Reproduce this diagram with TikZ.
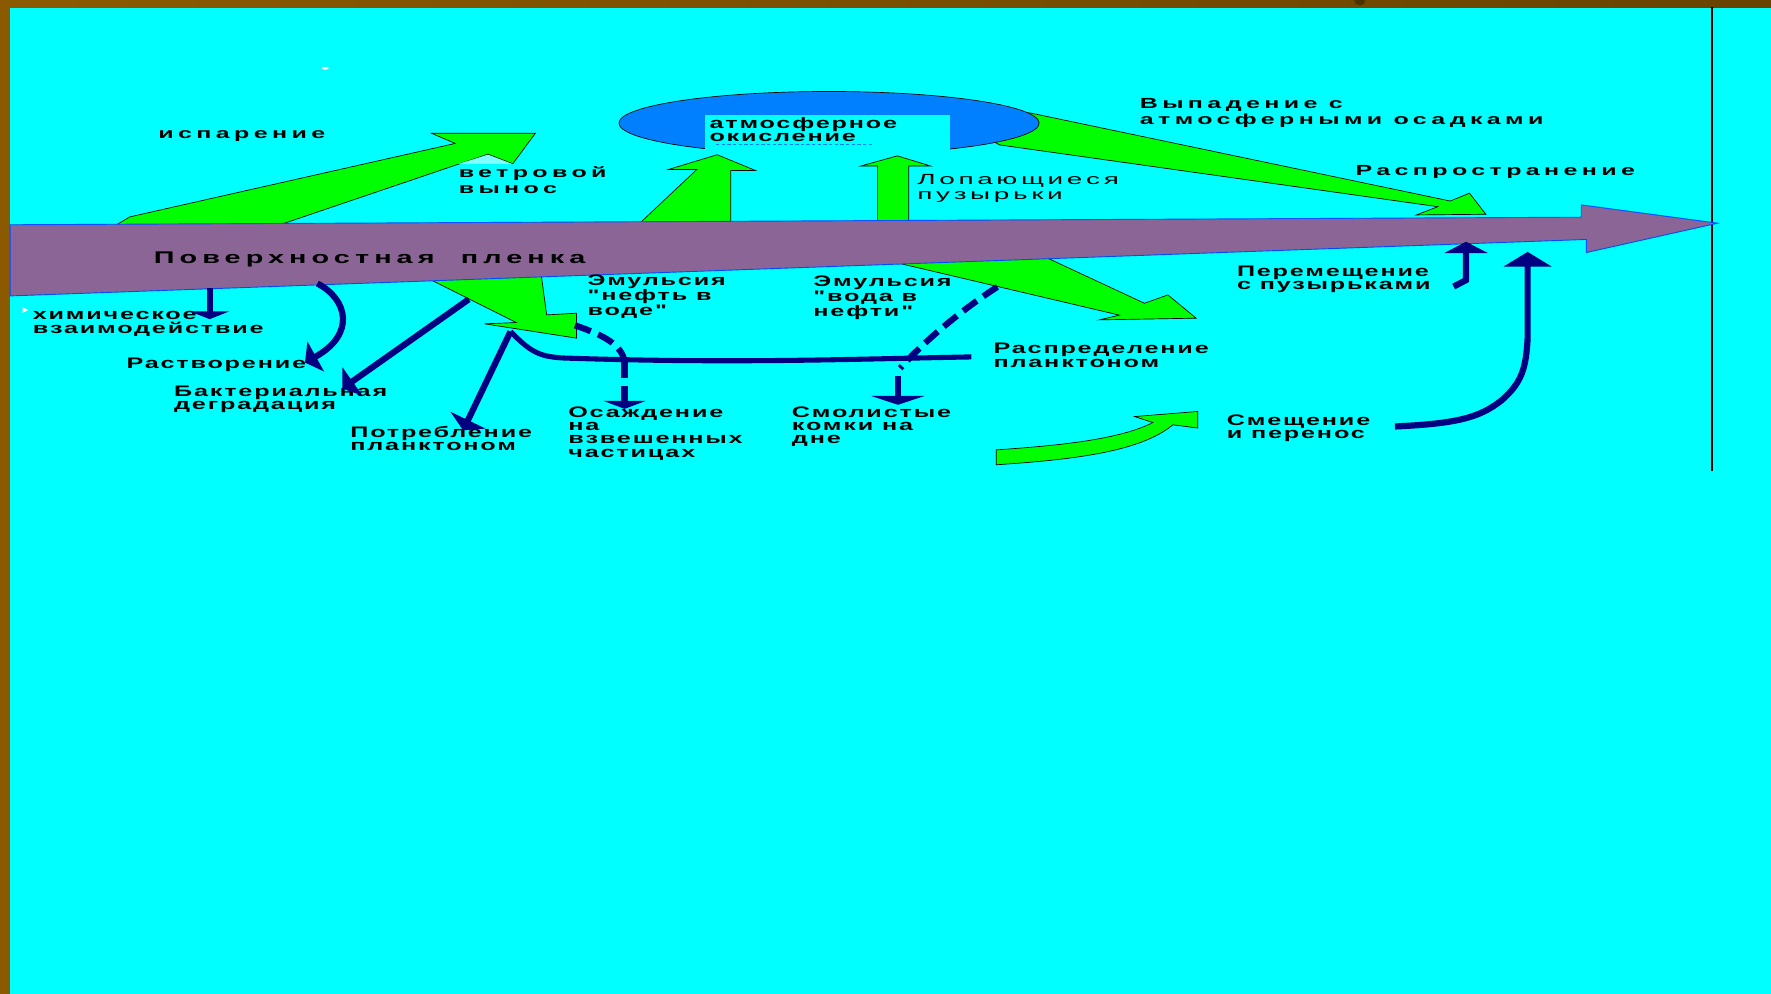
\documentclass[tikz,border=0pt]{standalone}
\usepackage{fontspec}
\newfontfamily\lblfont[FakeStretch=1.65,LetterSpace=12]{Liberation Sans Bold}
\newfontfamily\toplblfont[FakeStretch=1.7,LetterSpace=30]{Liberation Sans Bold}
\newfontfamily\plainlblfont[FakeStretch=1.9,LetterSpace=25]{Liberation Sans}
\usetikzlibrary{arrows.meta}
\definecolor{sea}{RGB}{0,255,255}
\definecolor{seapale}{RGB}{128,255,255}
\definecolor{frame}{RGB}{139,90,0}
\definecolor{film}{RGB}{139,101,150}
\definecolor{oilgreen}{RGB}{0,255,0}
\definecolor{navy}{RGB}{0,0,128}
\definecolor{sky}{RGB}{0,128,255}
\tikzset{
  lblsmall/.style={font={\lblfont\fontsize{13.5}{11.8}\selectfont},anchor=base west,align=left,inner sep=0pt},
  lblbig/.style={font={\toplblfont\fontsize{13}{14.6}\selectfont},anchor=base west,align=left,inner sep=0pt},
  flow/.style={fill=oilgreen,draw=black,line width=0.6pt},
  navyline/.style={draw=navy,line width=5.5pt},
  navyarrow/.style={navyline,-{Triangle[width=36pt,length=10pt]}},
  navydash/.style={navyline,dash pattern=on 15pt off 7pt}
}
\begin{document}
\begin{tikzpicture}[x=1pt,y=-1pt]
\useasboundingbox (0,0) rectangle (1568,880);
\fill[sea] (0,0) rectangle (1568,880);
\fill[frame] (0,0) rectangle (9,880);
\shade[left color=frame,right color=frame!75!black] (0,0) rectangle (1568,6.5);
\fill[frame!55!black] (1204,0) circle (5pt);
\fill[white] (288,60.5) ellipse (3pt and 1.2pt);
\fill[white] (20,272) -- (25,274.5) -- (20,277) -- cycle;
\draw[black,line width=1.5pt] (1516,6.5) -- (1516,417);

% green flows
\filldraw[flow] (98,202) -- (115,192) -- (403,127) -- (382,118) -- (474,118) -- (454,145) -- (432,136.5) -- (239,202) -- cycle;
\fill[seapale] (406,145) -- (432,137) -- (453,145) -- cycle;
\filldraw[flow] (900,100) -- (912,100) -- (1284,178) -- (1301,171) -- (1315.5,189.7) -- (1254,190.3) -- (1273,183) -- (885,128.3) -- (870,120) -- cycle;
\filldraw[flow] (378,246) -- (457,285.6) -- (429,286.7) -- (510.4,299.4) -- (510.4,277.3) -- (484,278.8) -- (479,242) -- cycle;
\filldraw[flow] (787,231) -- (991,279) -- (973.5,283.2) -- (1059,281.7) -- (1034,261.1) -- (1013.3,268.5) -- (922,226) -- cycle;
\filldraw[flow] (882,398.3) -- (882,411.5) .. controls (950,407) and (1010,400) .. (1038.4,376.1) -- (1060.5,379) -- (1060.5,364.3) -- (1004.5,368.8) -- (1020.7,374.1) .. controls (990,390) and (930,395) .. cycle;

% atmosphere
\filldraw[fill=sky,draw=black,line width=0.6pt] (734,109) ellipse (186pt and 28pt);
\fill[sea] (624,102) rectangle (841,140);
\draw[sky,line width=0.8pt,dash pattern=on 3pt off 2pt] (634,128) -- (773,128);
\filldraw[flow] (565,199) -- (617,150) -- (592,150) -- (635,137) -- (669,151) -- (647,151) -- (647,199) -- cycle;
\filldraw[flow] (777,199) -- (777,147) -- (762,147) -- (794.5,138) -- (824,147) -- (804.5,147) -- (804.5,199) -- cycle;

% surface film
\filldraw[fill=film,draw=blue!70!cyan,line width=0.8pt] (9,199) -- (1400,192.3) -- (1400,181.4) -- (1520.7,197.6) -- (1404.5,223.6) -- (1404.5,212) -- (9,262) -- cycle;
\node[lblbig,font={\toplblfont\fontsize{15}{16}\selectfont}] (film) at (136,233) {Поверхностная\ \ пленка};

% labels
\node[lblbig] (isp) at (140,123) {испарение};
\node[lblbig] (wind) at (406,171.6) {ветровой\\вынос};
\node[lblsmall] (oxid) at (628,125.3) {атмосферное\\окисление};
\node[lblbig,font={\plainlblfont\fontsize{13}{14}\selectfont}] (bubbles) at (812,177) {Лопающиеся\\пузырьки};
\node[lblbig] (rain) at (1009,110.5) {Выпадение с\\атмосферными осадками};
\node[lblbig] (spread) at (1200,155) {Распространение};
\node[lblsmall] (chem) at (28.8,295) {химическое\\взаимодействие};
\node[lblsmall] (dissol) at (111.8,326.5) {Растворение};
\node[lblsmall] (bact) at (154,362.8) {Бактериальная\\деградация};
\node[lblsmall] (consum) at (310,398.8) {Потребление\\планктоном};
\node[lblsmall] (emulow) at (520,279.3) {Эмульсия\\"нефть в\\воде"};
\node[lblsmall] (emuwo) at (720,280.6) {Эмульсия\\"вода в\\нефти"};
\node[lblsmall] (sedim) at (503,404.7) {Осаждение\\на\\взвешенных\\частицах};
\node[lblsmall] (lumps) at (701,392.9) {Смолистые\\комки на\\дне};
\node[lblsmall] (distr) at (879.5,325.1) {Распределение\\планктоном};
\node[lblsmall] (carry) at (1095,256.6) {Перемещение\\с пузырьками};
\node[lblsmall] (shift) at (1086,388.5) {Смещение\\и перенос};

% navy connectors
\coordinate (chemA) at (185.6,255);
\coordinate (chemB) at (185.6,282.6);
\coordinate (dissA) at (281,251);
\coordinate (dissB) at (270,321);
\coordinate (bactA) at (415,265);
\coordinate (bactB) at (303,344);
\coordinate (knot) at (452,293.5);
\coordinate (consB) at (410,381);
\coordinate (distB) at (860,316);
\coordinate (sedA) at (509,288);
\coordinate (sedB) at (553,320);
\coordinate (sedC) at (553,362);
\coordinate (lumpA) at (883,254);
\coordinate (lumpB) at (797,326);
\coordinate (lumpC) at (795,333);
\coordinate (lumpD) at (795,358.4);
\coordinate (carryA) at (1287,253.7);
\coordinate (carryB) at (1298,248);
\coordinate (carryC) at (1298,214);
\coordinate (shiftA) at (1235,377.6);
\coordinate (shiftB) at (1352.5,300);
\coordinate (shiftC) at (1352.5,223);

\draw[navyarrow,-{Triangle[width=35pt,length=7pt]}] (chemA) -- (chemB);
\draw[navyarrow,-{Triangle[width=30pt,length=11pt]}] (dissA) .. controls (308,265) and (315,296) .. (dissB);
\draw[navyarrow,-{Triangle[width=30pt,length=11pt]}] (bactA) -- (bactB);
\draw[navyarrow,-{Triangle[width=34pt,length=10pt]}] (knot) -- (consB);
\draw[navyline,line width=4.5pt] (knot) .. controls (470,312) and (478,316) .. (500,317) .. controls (650,322) and (750,318) .. (distB);
\draw[navydash] (sedA) .. controls (535,297) and (550,305) .. (sedB);
\draw[navydash,-{Triangle[width=37pt,length=7pt]}] (sedB) -- (sedC);
\draw[navydash] (lumpA) .. controls (855,272) and (820,300) .. (lumpB);
\draw[navyarrow,-{Triangle[width=48pt,length=8pt]}] (lumpC) -- (lumpD);
\draw[navyarrow,-{Triangle[width=38pt,length=10pt]}] (carryA) -- (carryB) -- (carryC);
\draw[navyarrow,-{Triangle[width=42pt,length=13pt]}] (shiftA) .. controls (1290,375) and (1310,370) .. (1330,354) .. controls (1348,338) and (1351,325) .. (shiftB) -- (shiftC);
\end{tikzpicture}
\end{document}
